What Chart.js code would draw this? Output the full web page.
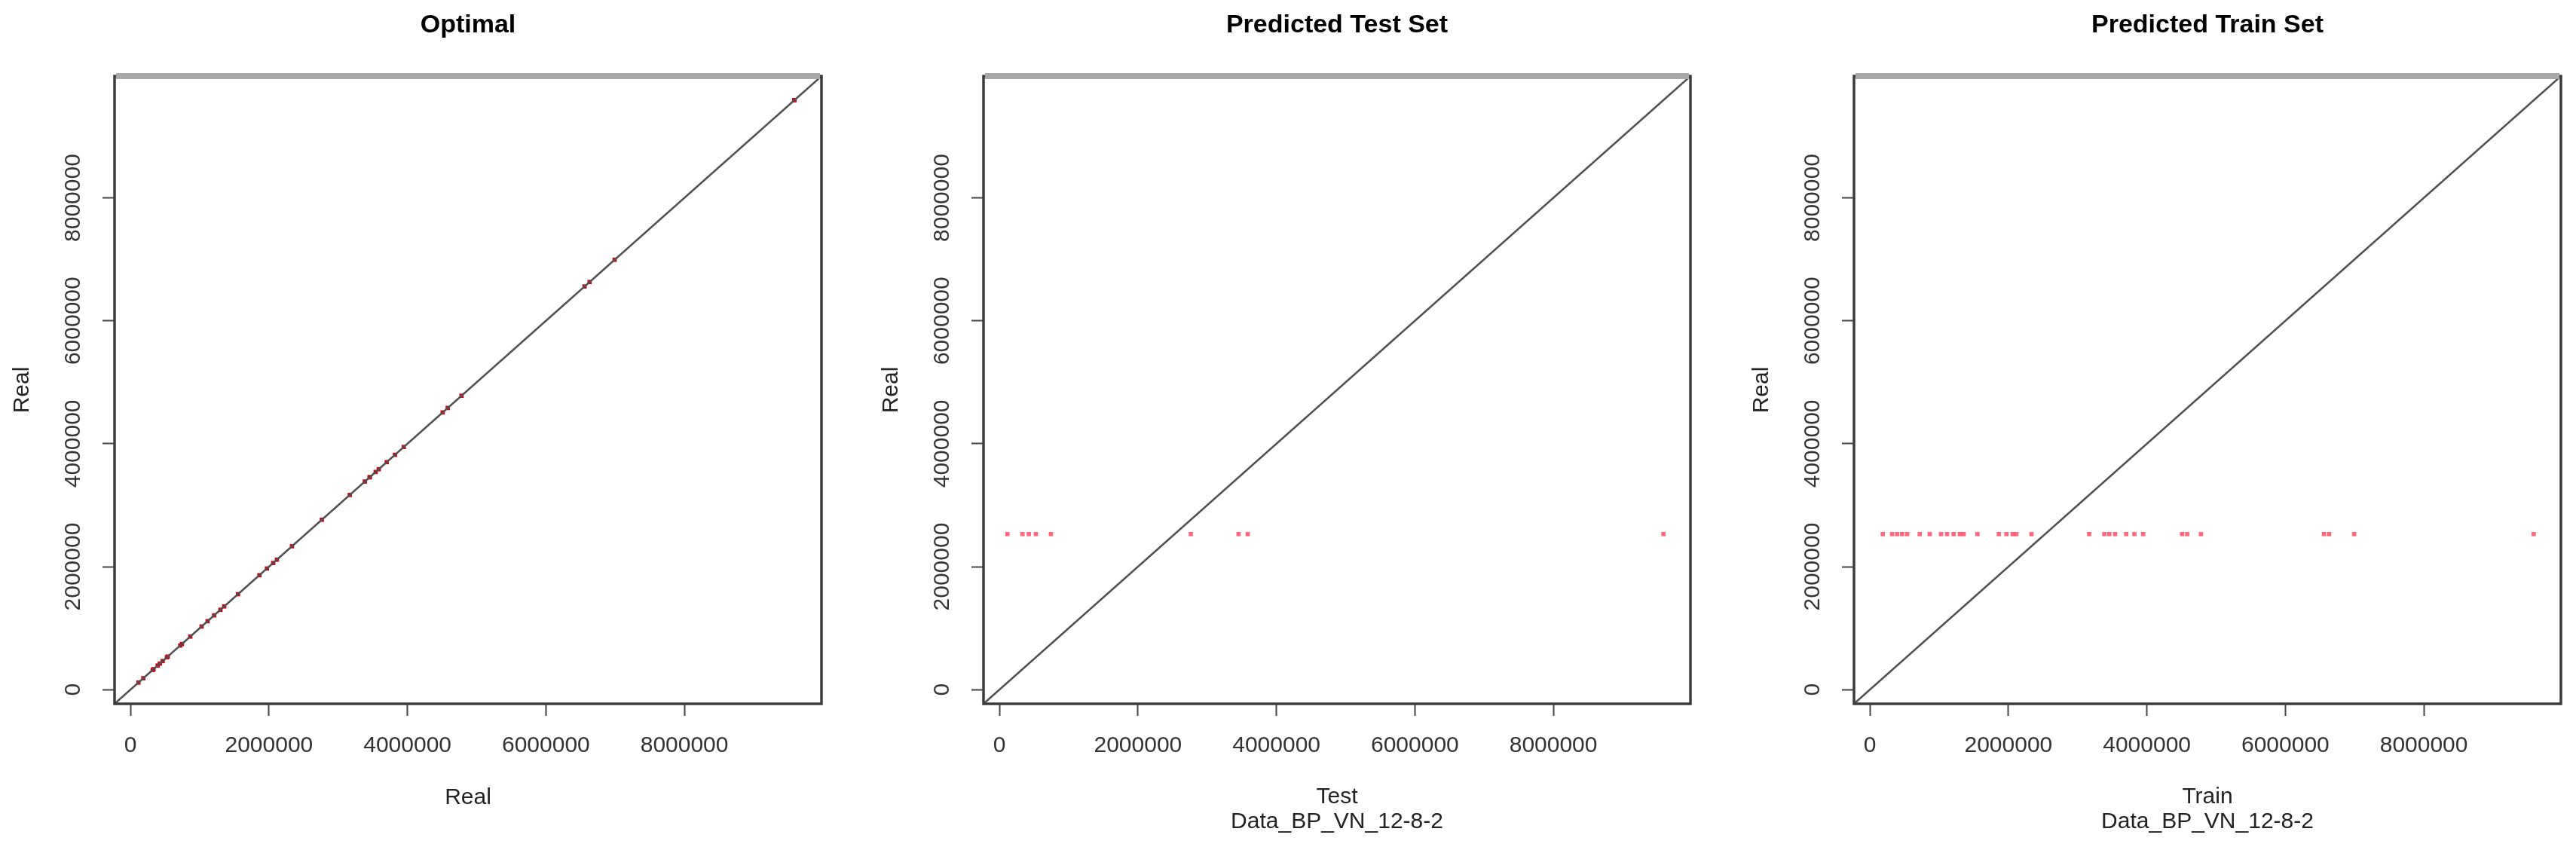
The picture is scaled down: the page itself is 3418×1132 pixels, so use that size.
<!DOCTYPE html>
<html>
<head>
<meta charset="utf-8">
<script src="https://cdn.jsdelivr.net/npm/chart.js@4"></script>
<style>
  html, body { margin: 0; padding: 0; background: #ffffff; }
  body { width: 3418px; height: 1132px; position: relative; overflow: hidden; }
  canvas { position: absolute; top: 0; }
</style>
</head>
<body>
<canvas id="c1" width="1100" height="1132" style="left:0px"></canvas>
<canvas id="c2" width="1100" height="1132" style="left:1153px"></canvas>
<canvas id="c3" width="1100" height="1132" style="left:2308px"></canvas>
<script>
// ---- data ----
const testReal  = [115000, 333000, 424000, 526000, 743000, 2764000, 3453000, 3586000, 9590000];
const testPred  = [2530000, 2530000, 2530000, 2530000, 2530000, 2530000, 2530000, 2530000, 2530000];
const trainReal = [186000, 320000, 393000, 465000, 538000, 719000, 864000, 1027000, 1114000, 1209000,
                   1299000, 1354000, 1553000, 1862000, 1971000, 2061000, 2115000, 2333000, 3167000, 3385000,
                   3457000, 3541000, 3701000, 3820000, 3947000, 4509000, 4582000, 4781000, 6558000, 6631000,
                   6993000, 9587000];
const trainPred = [2530000, 2530000, 2530000, 2530000, 2530000, 2530000, 2530000, 2530000, 2530000, 2530000,
                   2530000, 2530000, 2530000, 2530000, 2530000, 2530000, 2530000, 2530000, 2530000, 2530000,
                   2530000, 2530000, 2530000, 2530000, 2530000, 2530000, 2530000, 2530000, 2530000, 2530000,
                   2530000, 2530000];
const optimalReal = testReal.concat(trainReal);
const tickValues = [0, 2000000, 4000000, 6000000, 8000000];
const axisRange = [-230000, 9980000];
const panelTitles = ["Optimal", "Predicted Test Set", "Predicted Train Set"];
const xTitles = [["Real"], ["Test", "Data_BP_VN_12-8-2"], ["Train", "Data_BP_VN_12-8-2"]];
const yTitle = "Real";

const FONT = "'Liberation Sans', Arial, sans-serif";

const boxPlugin = {
  id: 'rbox',
  afterDraw(chart) {
    const a = chart.chartArea, ctx = chart.ctx;
    ctx.save();
    ctx.strokeStyle = '#3c3c3c';
    ctx.lineWidth = 3.5;
    ctx.strokeRect(a.left, a.top, a.right - a.left, a.bottom - a.top);
    ctx.strokeStyle = '#a8a8a8';
    ctx.lineWidth = 8;
    ctx.beginPath();
    ctx.moveTo(a.left + 2, a.top);
    ctx.lineTo(a.right - 2, a.top);
    ctx.stroke();
    ctx.restore();
  }
};

function pts(xs, ys) { return xs.map((v, i) => ({ x: v, y: ys[i] })); }

function makeChart(id, idx, points, pointColor) {
  const axisCommon = {
    type: 'linear',
    min: axisRange[0],
    max: axisRange[1],
    afterBuildTicks: s => { s.ticks = tickValues.map(v => ({ value: v })); },
    grid: { drawOnChartArea: false, drawTicks: true, tickLength: 16, tickColor: '#444', tickWidth: 2 },
    border: { display: false },
  };
  return new Chart(document.getElementById(id), {
    type: 'scatter',
    data: {
      datasets: [
        {
          label: 'diag',
          data: pts(axisRange, axisRange),
          showLine: true,
          borderColor: '#505050',
          borderWidth: 2.5,
          pointRadius: 0,
          fill: false,
        },
        {
          label: 'points',
          data: points,
          pointStyle: 'rect',
          pointRadius: 4,
          backgroundColor: pointColor,
          borderColor: pointColor,
          borderWidth: 0,
        }
      ]
    },
    options: {
      responsive: false,
      animation: false,
      devicePixelRatio: 1,
      layout: { padding: { left: 0, right: 10, top: 0, bottom: 0 } },
      plugins: {
        legend: { display: false },
        tooltip: { enabled: false },
        title: {
          display: true,
          text: panelTitles[idx],
          fullSize: false,
          color: '#000',
          font: { family: FONT, size: 34, weight: 'bold', lineHeight: 1.2 },
          padding: { top: 13.6, bottom: 46.6 }
        }
      },
      scales: {
        x: Object.assign({}, axisCommon, {
          position: 'bottom',
          afterFit: s => { s.height = 198; },
          ticks: {
            color: '#333', font: { family: FONT, size: 30 }, padding: 22,
            maxRotation: 0, minRotation: 0, autoSkip: false,
            callback: v => String(v)
          },
          title: {
            display: true, text: xTitles[idx], color: '#222',
            font: { family: FONT, size: 30, lineHeight: 1.1 },
            padding: { top: 0, bottom: idx === 0 ? 56.5 : 24.5 }
          }
        }),
        y: Object.assign({}, axisCommon, {
          position: 'left',
          afterFit: s => { s.width = 152; },
          ticks: {
            color: '#333', font: { family: FONT, size: 30 }, padding: -20,
            minRotation: 90, maxRotation: 90, crossAlign: 'center', autoSkip: false,
            callback: v => String(v)
          },
          title: {
            display: true, text: yTitle, color: '#222',
            font: { family: FONT, size: 30, lineHeight: 1.1 },
            padding: { top: 13.5, bottom: 0 }
          }
        })
      }
    },
    plugins: [boxPlugin]
  });
}

makeChart('c1', 0, pts(optimalReal, optimalReal), '#d8000f');
makeChart('c2', 1, pts(testReal, testPred), 'rgba(255,40,70,0.7)');
makeChart('c3', 2, pts(trainReal, trainPred), 'rgba(255,40,70,0.7)');
</script>
</body>
</html>
